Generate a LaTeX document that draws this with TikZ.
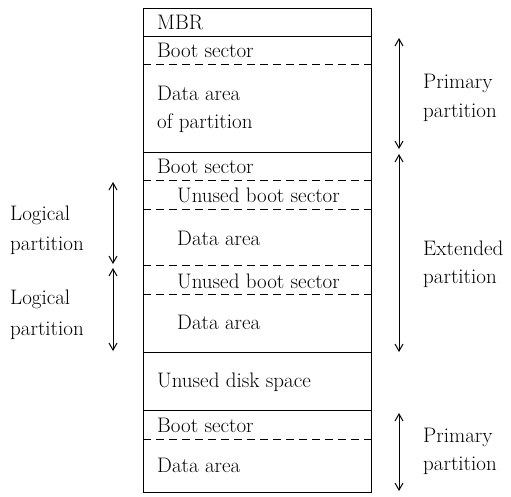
\documentclass[tikz,border=0pt]{standalone}
\usepackage{tikz}
\usetikzlibrary{arrows,arrows.meta}
\usetikzlibrary{positioning,calc}
\begin{document}
\begin{tikzpicture}[x=1pt,y=-1pt,>={Straight Barb[length=7pt,width=8pt]},
		lbl/.style={anchor=base west,inner sep=0pt,font=\fontsize{21}{25}\selectfont},
		sepline/.style={dash pattern=on 8pt off 5pt},
		span/.style={<->,line width=1pt}]
				\useasboundingbox (0,0) rectangle (511,496);
				% disk
				\draw[line width=0.9pt] (143,8) coordinate (tl) rectangle (371,492) coordinate (br);
				\foreach \y in {36,152,352,410}
					\draw (143,\y) -- (371,\y);
				\foreach \y in {64,180,209,265,294,439}
					\draw[sepline] (143,\y) -- (371,\y);
				% regions
				\node[lbl] (mbr) at (157,29) {MBR};
				\node[lbl] (boot1) at (157,57) {Boot sector};
				\node[lbl] (data1) at (157,100) {Data area};
				\node[lbl] (data1b) at (157,128) {of partition};
				\node[lbl] (boot2) at (157,173) {Boot sector};
				\node[lbl] (unused1) at (177,202) {Unused boot sector};
				\node[lbl] (data2) at (177,245) {Data area};
				\node[lbl] (unused2) at (177,288) {Unused boot sector};
				\node[lbl] (data3) at (177,329) {Data area};
				\node[lbl] (free) at (157,387) {Unused disk space};
				\node[lbl] (boot3) at (157,432) {Boot sector};
				\node[lbl] (data4) at (157,472) {Data area};
				% right side
				\coordinate (p1a) at (399,38);
				\coordinate (p1b) at (399,149);
				\coordinate (exa) at (399,154);
				\coordinate (exb) at (399,352);
				\coordinate (p2a) at (399,413);
				\coordinate (p2b) at (399,491);
				\draw[span] (p1a) -- (p1b);
				\draw[span] (exa) -- (exb);
				\draw[span] (p2a) -- (p2b);
				\node[lbl] (prim1) at (423,88) {Primary};
				\node[lbl] (prim1b) at (423,117) {partition};
				\node[lbl] (ext) at (423,255) {Extended};
				\node[lbl] (extb) at (423,283) {partition};
				\node[lbl] (prim2) at (423,442) {Primary};
				\node[lbl] (prim2b) at (423,470) {partition};
				% left side
				\coordinate (l1a) at (113,182);
				\coordinate (l1b) at (113,264);
				\coordinate (l2a) at (113,268);
				\coordinate (l2b) at (113,351);
				\draw[span] (l1a) -- (l1b);
				\draw[span] (l2a) -- (l2b);
				\node[lbl] (log1) at (10,220) {Logical};
				\node[lbl] (log1b) at (10,250) {partition};
				\node[lbl] (log2) at (10,304) {Logical};
				\node[lbl] (log2b) at (10,335) {partition};
			\end{tikzpicture}
\end{document}
